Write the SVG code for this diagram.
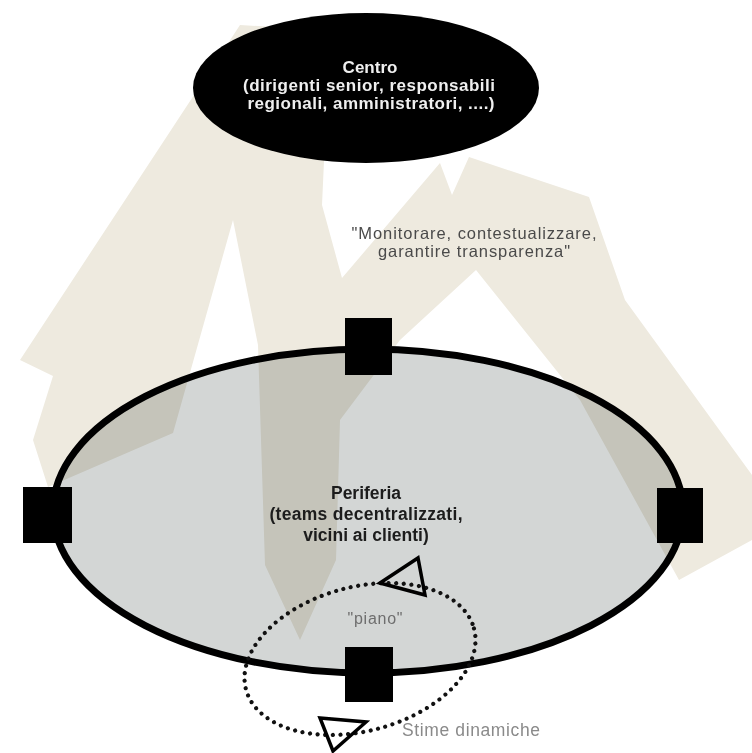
<svg xmlns="http://www.w3.org/2000/svg" width="752" height="753" viewBox="0 0 752 753">
<style>
.bold{font-family:"Liberation Sans",Arial,sans-serif;font-weight:bold;text-anchor:middle}
.reg{font-family:"Liberation Sans",Arial,sans-serif;text-anchor:middle}
.sq{fill:#000}
.dots{fill:none;stroke:#111;stroke-width:4.2;stroke-dasharray:0 7.6;stroke-linecap:round}
.head{fill:none;stroke:#000;stroke-width:3.5;stroke-linejoin:miter}
</style>
<rect x="0" y="0" width="752" height="753" fill="#ffffff"/>
<g id="backdrop">
<polygon fill="#eeeadf" points="48,487 33,440 53,376 20,360 240,25 330,30 322,205 342,278 440,163 452,195 469,157 589,197 625,300 752,475 752,540 679,580 580,400 476,270 400,340 340,420 336,560 300,640 265,565 258,345 233,220 173,433"/>
</g>
<g id="periferia">
<ellipse cx="368" cy="511" rx="315" ry="162" fill="#d3d6d5" style="mix-blend-mode:multiply"/>
<ellipse cx="368" cy="511" rx="315" ry="162" fill="none" stroke="#000" stroke-width="7"/>
<text class="bold" fill="#1c1c1c" x="366" y="499" font-size="17.5">Periferia</text>
<text class="bold" fill="#1c1c1c" x="366" y="520" font-size="17.5" textLength="193" lengthAdjust="spacing">(teams decentralizzati,</text>
<text class="bold" fill="#1c1c1c" x="366" y="541" font-size="17.5">vicini ai clienti)</text>
</g>
<g id="node-top"><rect class="sq" x="345" y="318" width="47" height="57"/></g>
<g id="node-left"><rect class="sq" x="23" y="487" width="49" height="56"/></g>
<g id="node-right"><rect class="sq" x="657" y="488" width="46" height="55"/></g>
<g id="node-bottom"><rect class="sq" x="345" y="647" width="48" height="55"/></g>
<g id="centro">
<ellipse cx="366" cy="88" rx="173" ry="75" fill="#000"/>
<text class="bold" fill="#efefef" x="370" y="73" font-size="17">Centro</text>
<text class="bold" fill="#efefef" x="369" y="91" font-size="17" textLength="252" lengthAdjust="spacing">(dirigenti senior, responsabili</text>
<text class="bold" fill="#efefef" x="371" y="109" font-size="17" textLength="247" lengthAdjust="spacing">regionali, amministratori, ....)</text>
</g>
<g id="label-monitor">
<text class="reg" fill="#4a4a4a" x="474" y="239" font-size="16.5" textLength="245" lengthAdjust="spacing">"Monitorare, contestualizzare,</text>
<text class="reg" fill="#4a4a4a" x="474" y="257" font-size="16.5" textLength="192" lengthAdjust="spacing">garantire transparenza"</text>
</g>
<g id="connectors">
<ellipse class="dots" cx="360" cy="659" rx="118" ry="72" transform="rotate(-15 360 659)"/>
<polygon class="head" points="380,583 418,558 425,595"/>
<polygon class="head" points="320,718 366,722 333,751"/>
</g>
<g id="label-piano">
<text class="reg" fill="#6e6e6e" x="375" y="624" font-size="16" textLength="55" lengthAdjust="spacing">"piano"</text>
</g>
<g id="label-stime">
<text class="reg" fill="#8a8a8a" x="471" y="736" font-size="17.5" textLength="138" lengthAdjust="spacing">Stime dinamiche</text>
</g>
</svg>
